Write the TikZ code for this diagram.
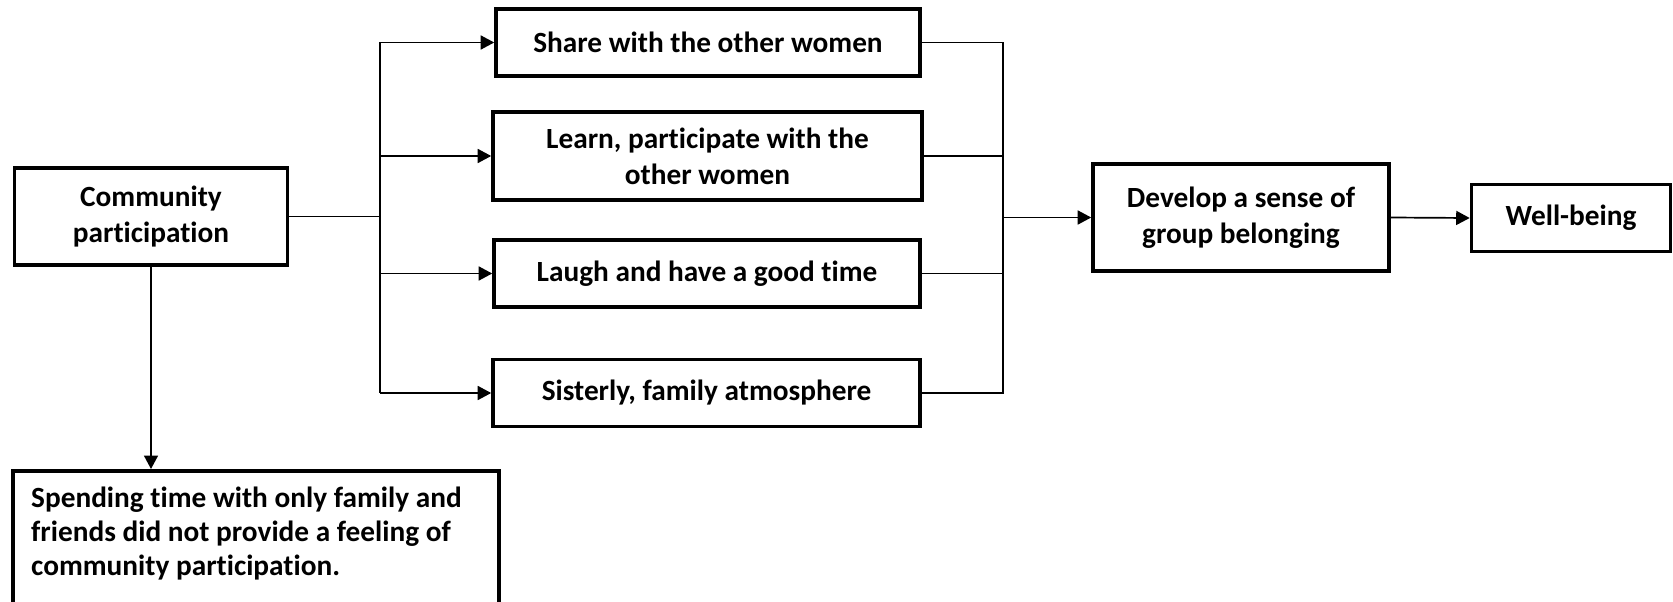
\documentclass[tikz,border=0pt]{standalone}
\usepackage{fontspec}
\setmainfont{Carlito}[Ligatures=NoCommon]
\usetikzlibrary{arrows.meta}
\begin{document}
\begin{tikzpicture}[x=1pt,y=-1pt,
  box/.style={draw,line width=3.6pt,align=center,inner sep=0pt,font=\fontsize{29.3}{36}\selectfont\bfseries},
  thinline/.style={line width=1.3pt},
  arr/.style={line width=1.7pt,-{Triangle[length=13.5pt,width=14pt]}}]
\useasboundingbox (0,0) rectangle (1673,602);
\clip (0,0) rectangle (1673,602);
\node[box,minimum width=273pt,minimum height=97pt] (cp) at (151,216.5) {Community\\participation};
\node[box,minimum width=424pt,minimum height=67pt] (b1) at (708,42.5) {Share with the other women};
\node[box,minimum width=429pt,minimum height=88pt] (b2) at (707.5,156) {Learn, participate with the\\other women};
\node[box,minimum width=426pt,minimum height=67pt] (b3) at (707,273.5) {Laugh and have a good time};
\node[box,minimum width=427pt,minimum height=67pt] (b4) at (706.5,393) {Sisterly, family atmosphere};
\node[box,minimum width=296pt,minimum height=107pt] (dev) at (1241,217.5) {Develop a sense of\\group belonging};
\node[box,minimum width=199pt,minimum height=67pt] (wb) at (1571,218) {Well-being};
\node[box,anchor=north west,minimum width=486pt,minimum height=200pt] (bot) at (11,469) {};
\node[anchor=north west,align=left,inner sep=0pt,font=\fontsize{29.3}{34}\selectfont\bfseries] (bottxt) at ([xshift=20pt,yshift=-18pt]bot.north west) {Spending time with only family and\\friends did not provide a feeling of\\community participation.};
\coordinate (bl) at (380,216.5);
\coordinate (br) at (1003,216.5);
\draw[thinline] (cp.east) -- (bl);
\draw[thinline] (bl|-b1.west) -- (bl|-b4.west);
\foreach \b in {b1,b2,b3,b4} \draw[arr] (bl|-\b.west) -- (\b.west);
\draw[thinline] (b1.east) -- (br|-b1.east) -- (br|-b4.east) -- (b4.east);
\draw[thinline] (b2.east) -- (br|-b2.east);
\draw[thinline] (b3.east) -- (br|-b3.east);
\draw[arr] (br|-dev.west) -- (dev.west);
\draw[arr] (dev.east) -- (wb.west);
\draw[arr] (cp.south) -- (cp.south|-bot.north);
\end{tikzpicture}
\end{document}
